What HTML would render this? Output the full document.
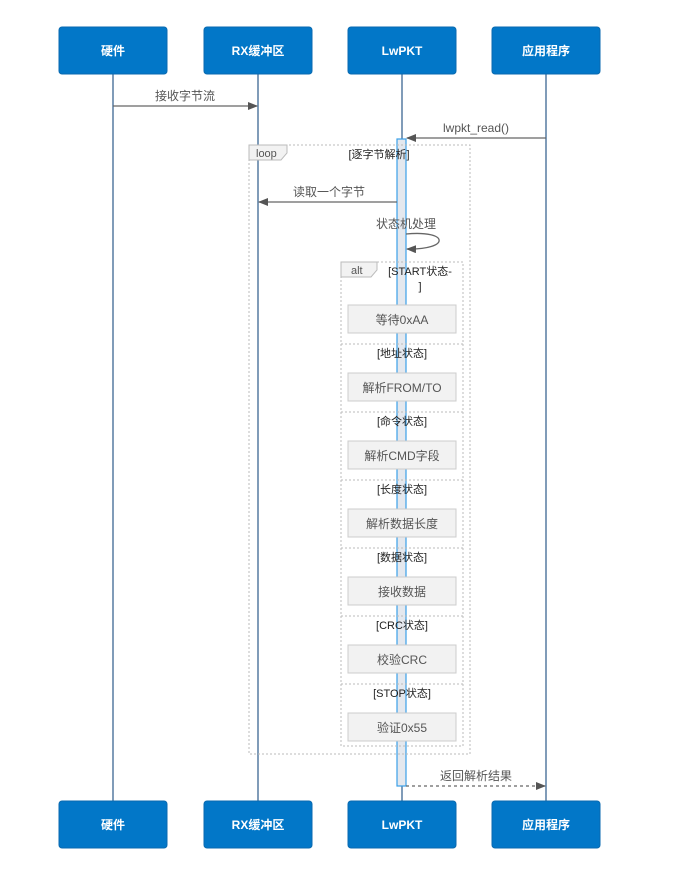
<!DOCTYPE html>
<html><head><meta charset="utf-8"><style>
html,body{margin:0;padding:0;background:#fff;}
svg{display:block;font-family:"Liberation Sans","Noto Sans CJK SC",sans-serif;}
</style></head><body>
<svg width="694" height="877" viewBox="0 0 694 877" xmlns="http://www.w3.org/2000/svg">
<defs>
<marker id="ar" markerWidth="10" markerHeight="8" refX="9" refY="4" orient="auto" markerUnits="userSpaceOnUse">
<path d="M0,0 L10,4 L0,8 z" fill="#555"/></marker>
</defs>
<g stroke="#2c5a8a" stroke-width="1.2">
<line x1="113" y1="74" x2="113" y2="801"/>
<line x1="258" y1="74" x2="258" y2="801"/>
<line x1="402" y1="74" x2="402" y2="801"/>
<line x1="546" y1="74" x2="546" y2="801"/>
</g>
<g fill="#0277c8" stroke="#0a6ab0">
<rect x="59" y="27" width="108" height="47" rx="3"/>
<rect x="204" y="27" width="108" height="47" rx="3"/>
<rect x="348" y="27" width="108" height="47" rx="3"/>
<rect x="492" y="27" width="108" height="47" rx="3"/>
<rect x="59" y="801" width="108" height="47" rx="3"/>
<rect x="204" y="801" width="108" height="47" rx="3"/>
<rect x="348" y="801" width="108" height="47" rx="3"/>
<rect x="492" y="801" width="108" height="47" rx="3"/>
</g>
<g fill="#fff" font-size="12" font-weight="bold" text-anchor="middle">
<text x="113" y="55">硬件</text><text x="258" y="55">RX缓冲区</text><text x="402" y="55">LwPKT</text><text x="546" y="55">应用程序</text>
<text x="113" y="829">硬件</text><text x="258" y="829">RX缓冲区</text><text x="402" y="829">LwPKT</text><text x="546" y="829">应用程序</text>
</g>
<rect x="397" y="139" width="9" height="647" fill="#e4e8ee" stroke="#3aa0e8" stroke-width="1.2"/>
<g fill="none" stroke="#bbb" stroke-dasharray="2,2">
<rect x="249" y="145" width="221" height="609"/>
<rect x="341" y="262" width="122" height="484"/>
<line x1="341" y1="344" x2="463" y2="344"/><line x1="341" y1="412" x2="463" y2="412"/>
<line x1="341" y1="480" x2="463" y2="480"/><line x1="341" y1="548" x2="463" y2="548"/>
<line x1="341" y1="616" x2="463" y2="616"/><line x1="341" y1="684" x2="463" y2="684"/>
</g>
<path d="M249,145 H287 V153 L281,160 H249 Z" fill="#f2f2f2" stroke="#bbb"/>
<path d="M341,262 H377 V270 L371,277 H341 Z" fill="#f2f2f2" stroke="#bbb"/>
<g font-size="11" fill="#555">
<text x="256" y="157">loop</text><text x="351" y="274">alt</text>
</g>
<g font-size="11" fill="#222" text-anchor="middle">
<text x="379" y="158">[逐字节解析]</text>
<text x="420" y="275">[START状态-</text><text x="420" y="290">]</text>
<text x="402" y="357">[地址状态]</text><text x="402" y="425">[命令状态]</text>
<text x="402" y="493">[长度状态]</text><text x="402" y="561">[数据状态]</text>
<text x="402" y="629">[CRC状态]</text><text x="402" y="697">[STOP状态]</text>
</g>
<g fill="#f2f2f2" stroke="#ccc">
<rect x="348" y="305" width="108" height="28"/><rect x="348" y="373" width="108" height="28"/>
<rect x="348" y="441" width="108" height="28"/><rect x="348" y="509" width="108" height="28"/>
<rect x="348" y="577" width="108" height="28"/><rect x="348" y="645" width="108" height="28"/>
<rect x="348" y="713" width="108" height="28"/>
</g>
<g font-size="12" fill="#555" text-anchor="middle">
<text x="402" y="324">等待0xAA</text><text x="402" y="392">解析FROM/TO</text>
<text x="402" y="460">解析CMD字段</text><text x="402" y="528">解析数据长度</text>
<text x="402" y="596">接收数据</text><text x="402" y="664">校验CRC</text><text x="402" y="732">验证0x55</text>
</g>
<g stroke="#666" stroke-width="1.3" fill="none">
<line x1="113" y1="106" x2="257" y2="106" marker-end="url(#ar)"/>
<line x1="546" y1="138" x2="407" y2="138" marker-end="url(#ar)"/>
<line x1="397" y1="202" x2="259" y2="202" marker-end="url(#ar)"/>
<path d="M406,234 C450,230 450,250 407,249" marker-end="url(#ar)"/>
<line x1="406" y1="786" x2="545" y2="786" stroke-dasharray="3,3" marker-end="url(#ar)"/>
</g>
<g font-size="12" fill="#555" text-anchor="middle">
<text x="185" y="100">接收字节流</text>
<text x="476" y="132">lwpkt_read()</text>
<text x="329" y="196">读取一个字节</text>
<text x="406" y="228">状态机处理</text>
<text x="476" y="780">返回解析结果</text>
</g>
</svg>
</body></html>
